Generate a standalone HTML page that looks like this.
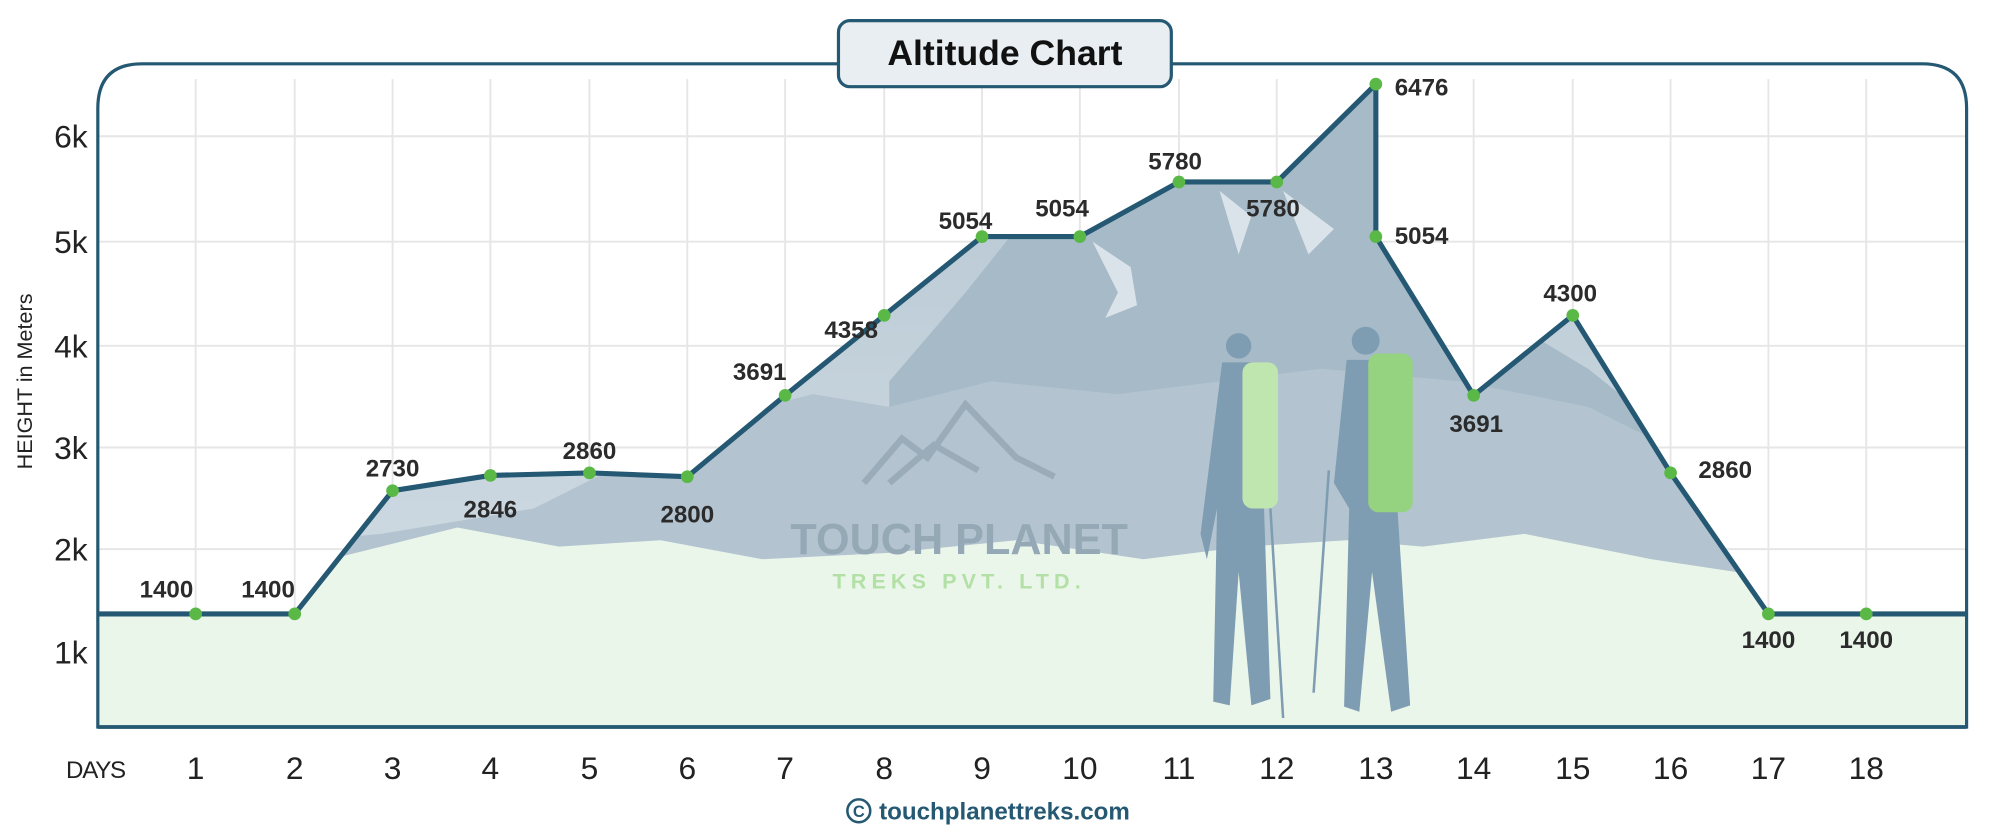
<!DOCTYPE html>
<html><head><meta charset="utf-8"><style>
html,body{margin:0;padding:0;background:#fff;}
svg{display:block;}
text{font-family:"Liberation Sans",sans-serif;}
</style></head><body>
<svg width="1992" height="834" viewBox="0 0 1568 656" xmlns="http://www.w3.org/2000/svg">
<defs>
<clipPath id="area"><path d="M77,483 L154,483 L232,483 L309,386 L386,374 L464,372 L541,375 L618,311 L696,248 L773,186 L850,186 L928,143 L1005,143 L1083,66 L1083,186 L1160,311 L1238,248 L1315,372 L1392,483 L1548,483 L1548,572 L77,572 Z"/></clipPath>
<linearGradient id="sky" x1="0" y1="0" x2="0" y2="1"><stop offset="0" stop-color="#b4c5d1"/><stop offset="1" stop-color="#d6e0e7"/></linearGradient>
</defs>
<rect width="1568" height="656" fill="#fff"/>
<g stroke="#e6e6e6" stroke-width="1.5">
<line x1="77" y1="107" x2="1548" y2="107"/><line x1="77" y1="190" x2="1548" y2="190"/><line x1="77" y1="272" x2="1548" y2="272"/><line x1="77" y1="352" x2="1548" y2="352"/><line x1="77" y1="432" x2="1548" y2="432"/><line x1="77" y1="513" x2="1548" y2="513"/>
<line x1="154" y1="62" x2="154" y2="572"/><line x1="232" y1="62" x2="232" y2="572"/><line x1="309" y1="62" x2="309" y2="572"/><line x1="386" y1="62" x2="386" y2="572"/><line x1="464" y1="62" x2="464" y2="572"/><line x1="541" y1="62" x2="541" y2="572"/><line x1="618" y1="62" x2="618" y2="572"/><line x1="696" y1="62" x2="696" y2="572"/><line x1="773" y1="62" x2="773" y2="572"/><line x1="850" y1="62" x2="850" y2="572"/><line x1="928" y1="62" x2="928" y2="572"/><line x1="1005" y1="62" x2="1005" y2="572"/><line x1="1083" y1="62" x2="1083" y2="572"/><line x1="1160" y1="62" x2="1160" y2="572"/><line x1="1238" y1="62" x2="1238" y2="572"/><line x1="1315" y1="62" x2="1315" y2="572"/><line x1="1392" y1="62" x2="1392" y2="572"/><line x1="1469" y1="62" x2="1469" y2="572"/>
</g>
<g clip-path="url(#area)">
<rect x="77" y="60" width="1471" height="512" fill="url(#sky)"/>
<path d="M700,300 L760,230 L800,180 L850,160 L900,150 L950,130 L1000,110 L1050,90 L1090,60 L1100,200 L1200,260 L1250,290 L1300,330 L1548,360 L1548,572 L700,572Z" fill="#a7bac8"/>
<path d="M860,190 L880,230 L870,250 L895,240 L890,210Z M960,150 L975,200 L985,170Z M1010,150 L1030,200 L1050,180Z" fill="#e8eef2" opacity="0.8"/>
<path d="M77,440 L300,420 L420,400 L560,330 L640,310 L700,320 L780,300 L880,310 L960,300 L1040,290 L1150,300 L1250,320 L1330,360 L1548,380 L1548,572 L77,572Z" fill="#b3c4d0"/>
<path d="M77,470 L260,440 L300,430 L360,415 L440,430 L520,425 L600,440 L700,435 L800,425 L900,440 L980,430 L1060,425 L1120,430 L1200,420 L1300,440 L1400,455 L1548,450 L1548,572 L77,572Z" fill="#ebf6ea"/>
</g>
<g fill="#7f9db2">
<circle cx="975" cy="272" r="10"/><path d="M962,285 L990,285 L995,400 L1000,550 L985,555 L975,450 L968,555 L955,552 L958,400 L950,440 L945,420 Z"/>
<circle cx="1075" cy="268" r="11"/><path d="M1060,283 L1092,283 L1100,400 L1110,555 L1095,560 L1080,450 L1070,560 L1058,556 L1062,400 L1050,380 Z"/>
</g>
<rect x="978" y="285" width="28" height="115" rx="8" fill="#bfe6ae"/>
<rect x="1077" y="278" width="35" height="125" rx="8" fill="#95d381"/>
<line x1="1000" y1="400" x2="1010" y2="565" stroke="#7f9db2" stroke-width="2"/>
<line x1="1046" y1="370" x2="1034" y2="545" stroke="#7f9db2" stroke-width="2"/>
<path d="M680,380 L710,345 L730,360 L760,318 L800,360 L830,375 M700,380 L735,350 L770,370" fill="none" stroke="#93a6b4" stroke-width="5" opacity="0.8"/>
<text x="755" y="436" font-size="34" font-weight="bold" fill="#95a8b5" text-anchor="middle">TOUCH PLANET</text>
<text x="755" y="463" font-size="17" font-weight="bold" fill="#b3e0a6" text-anchor="middle" letter-spacing="4">TREKS  PVT. LTD.</text>
<path d="M77,572 L77,85 Q77,50 112,50 L1513,50 Q1548,50 1548,85 L1548,572 Z" fill="none" stroke="#245873" stroke-width="2.5"/>
<line x1="77" y1="572" x2="1548" y2="572" stroke="#245873" stroke-width="3"/>
<polyline points="77,483 154,483 232,483 309,386 386,374 464,372 541,375 618,311 696,248 773,186 850,186 928,143 1005,143 1083,66 1083,186 1160,311 1238,248 1315,372 1392,483 1548,483" fill="none" stroke="#245873" stroke-width="4" stroke-linejoin="round"/>
<g fill="#5ab946">
<circle cx="154" cy="483" r="5"/><circle cx="232" cy="483" r="5"/><circle cx="309" cy="386" r="5"/><circle cx="386" cy="374" r="5"/><circle cx="464" cy="372" r="5"/><circle cx="541" cy="375" r="5"/><circle cx="618" cy="311" r="5"/><circle cx="696" cy="248" r="5"/><circle cx="773" cy="186" r="5"/><circle cx="850" cy="186" r="5"/><circle cx="928" cy="143" r="5"/><circle cx="1005" cy="143" r="5"/><circle cx="1083" cy="66" r="5"/><circle cx="1083" cy="186" r="5"/><circle cx="1160" cy="311" r="5"/><circle cx="1238" cy="248" r="5"/><circle cx="1315" cy="372" r="5"/><circle cx="1392" cy="483" r="5"/><circle cx="1469" cy="483" r="5"/>
</g>
<g font-size="19" font-weight="bold" fill="#2b2b2b" text-anchor="middle">
<text x="131" y="470">1400</text><text x="211" y="470">1400</text><text x="309" y="375">2730</text><text x="386" y="407">2846</text><text x="464" y="361">2860</text><text x="541" y="411">2800</text><text x="598" y="299">3691</text><text x="670" y="266">4358</text><text x="760" y="180">5054</text><text x="836" y="170">5054</text><text x="925" y="133">5780</text><text x="1002" y="170">5780</text><text x="1119" y="75">6476</text><text x="1119" y="192">5054</text><text x="1162" y="340">3691</text><text x="1236" y="237">4300</text><text x="1358" y="376">2860</text><text x="1392" y="510">1400</text><text x="1469" y="510">1400</text>
</g>
<g font-size="25" fill="#222" text-anchor="end">
<text x="69" y="116">6k</text><text x="69" y="199">5k</text><text x="69" y="281">4k</text><text x="69" y="361">3k</text><text x="69" y="441">2k</text><text x="69" y="522">1k</text>
</g>
<text transform="translate(25,300) rotate(-90)" font-size="17" fill="#222" text-anchor="middle">HEIGHT in Meters</text>
<text x="52" y="612" font-size="19" fill="#222" letter-spacing="-1">DAYS</text>
<g font-size="25" fill="#222" text-anchor="middle">
<text x="154" y="613">1</text><text x="232" y="613">2</text><text x="309" y="613">3</text><text x="386" y="613">4</text><text x="464" y="613">5</text><text x="541" y="613">6</text><text x="618" y="613">7</text><text x="696" y="613">8</text><text x="773" y="613">9</text><text x="850" y="613">10</text><text x="928" y="613">11</text><text x="1005" y="613">12</text><text x="1083" y="613">13</text><text x="1160" y="613">14</text><text x="1238" y="613">15</text><text x="1315" y="613">16</text><text x="1392" y="613">17</text><text x="1469" y="613">18</text>
</g>
<rect x="660" y="16" width="262" height="52" rx="9" fill="#e9eef2" stroke="#245873" stroke-width="2.5"/>
<text x="791" y="51" font-size="28" font-weight="bold" fill="#111" text-anchor="middle">Altitude Chart</text>
<circle cx="676" cy="638" r="9" fill="none" stroke="#245873" stroke-width="2"/>
<text x="676" y="643" font-size="13" font-weight="bold" fill="#245873" text-anchor="middle">C</text>
<text x="692" y="645" font-size="19" font-weight="bold" fill="#245873">touchplanettreks.com</text>
</svg>
</body></html>
